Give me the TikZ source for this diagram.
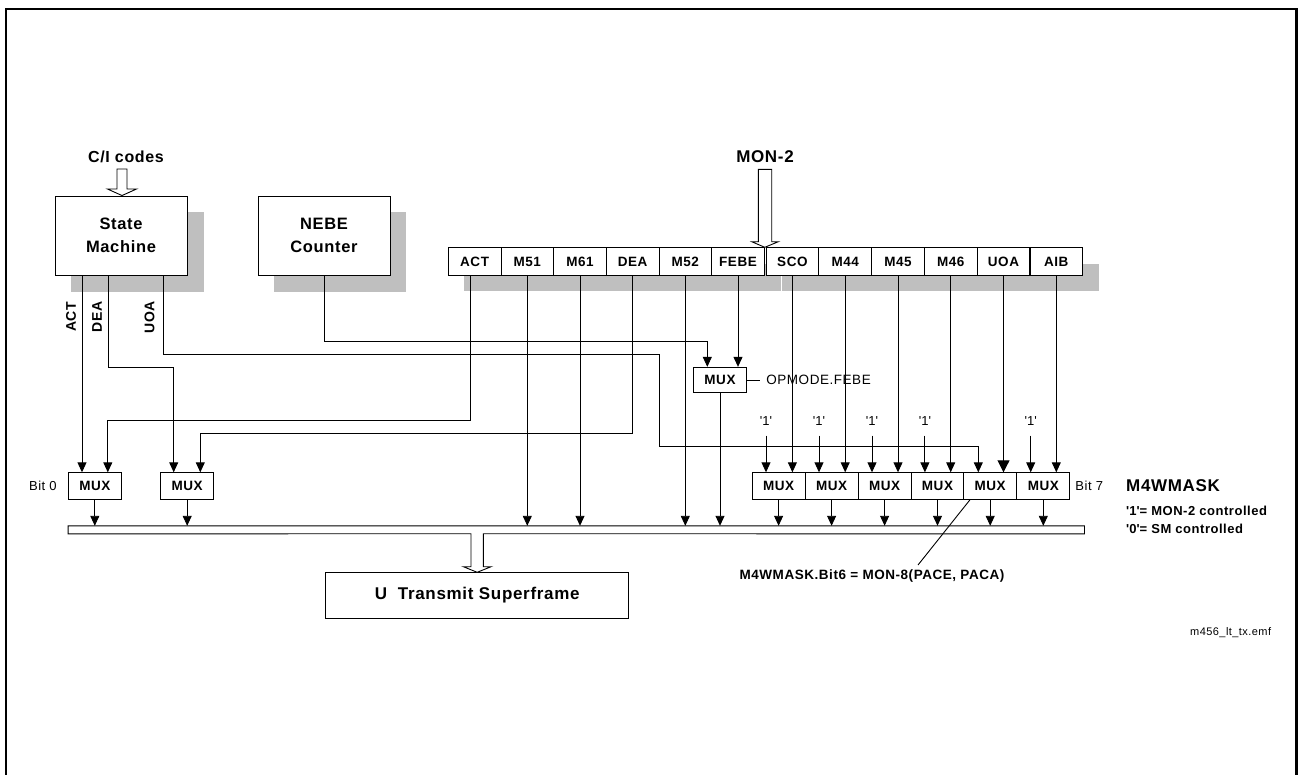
\documentclass[tikz,border=0pt]{standalone}
\usepackage{fontspec}
\setmainfont{Liberation Sans}[LetterSpace=4]
\usetikzlibrary{arrows.meta,calc}
\newcommand\myq{\textquotesingle}
\begin{document}
\begin{tikzpicture}[x=1pt,y=-1pt,
  every node/.style={inner sep=0pt},
  ln/.style={line width=0.9pt},
  sig/.style={ln,-{Triangle[width=9pt,length=10pt]}},
  bigsig/.style={ln,-{Triangle[width=12pt,length=12pt]}},
  hollow/.style={ln,fill=white,line join=miter},
  blk/.style={draw,ln,fill=white,align=center,minimum width=132pt,minimum height=79pt,font=\fontsize{16.5}{23}\selectfont\bfseries},
  shade/.style={fill=black!25},
  cell/.style={draw,ln,fill=white,minimum width=52.7pt,minimum height=27.5pt,font=\fontsize{13.5}{16}\selectfont\bfseries},
  muxbox/.style={draw,ln,fill=white,minimum width=53pt,minimum height=26.3pt,font=\fontsize{13.5}{16}\selectfont\bfseries},
  small/.style={font=\fontsize{13}{15}\selectfont},
  smallbf/.style={font=\fontsize{13}{15}\selectfont\bfseries},
  rlbl/.style={rotate=90,font=\fontsize{14}{16}\selectfont\bfseries},
  title/.style={font=\fontsize{17}{20}\selectfont\bfseries}
]
\useasboundingbox (0,0) rectangle (1298,774);
\fill[white] (0,0) rectangle (1298,774);
% outer frame
\draw[line width=2.4pt] (6,790) -- (6,9) -- (1296.5,9) -- (1296.5,790);

% shadows
\fill[shade] (71,212) rectangle (204,292);
\fill[shade] (274,212) rectangle (406,292);
\fill[shade] (464,264) rectangle (781,291);
\fill[shade] (782.3,264) rectangle (1099,291);

% blocks
\node[blk] (sm) at (121,235.5) {State\\Machine};
\node[blk] (nebe) at (324,235.5) {NEBE\\Counter};

% register cells
\foreach \x/\n/\t in {474.6/act/ACT, 527.3/m51/M51, 580.0/m61/M61, 632.7/dea/DEA, 685.3/m52/M52, 738.0/febe/FEBE,
                     792.4/sco/SCO, 845.2/m44/M44, 898.0/m45/M45, 950.7/m46/M46, 1003.5/uoa/UOA, 1056.3/aib/AIB}
  \node[cell] (\n) at (\x,261.5) {\t};

% input arrows (hollow)
\node[title,font=\fontsize{16}{19}\selectfont\bfseries,anchor=base] (ci) at (126,162) {C/I codes};
\draw[hollow] (117,169) -- (117,189) -- (107.5,189) -- ([xshift=1pt]sm.north) -- (136.5,189) -- (127,189) -- (127,169) -- cycle;
\node[title,anchor=base] (mon) at (765,162) {MON-2};
\draw[hollow] (758.3,169.3) -- (758.3,241.7) -- (751.7,241.7) -- (febe.north east) -- (778.3,241.7) -- (771.7,241.7) -- (771.7,169.3) -- cycle;

% rotated labels
\node[rlbl] (lact) at (71,317) {ACT};
\node[rlbl] (ldea) at (97,317) {DEA};
\node[rlbl] (luoa) at (149.5,317) {UOA};

% muxes
\node[muxbox] (mux1) at (94.8,485.9) {MUX};
\node[muxbox] (mux2) at (187.2,485.9) {MUX};
\foreach \x/\n in {778.6/mux3, 831.6/mux4, 884.6/mux5, 937.5/mux6, 990.2/mux7, 1043.3/mux8}
  \node[muxbox] (\n) at (\x,485.9) {MUX};
\node[muxbox,minimum width=53.4pt,minimum height=25.4pt] (fmux) at (720,380) {MUX};

% bus and output to U transmit superframe
\node[minimum width=1016pt,minimum height=7.7pt] (bus) at (576.3,529.85) {};
\node[draw,ln,minimum width=303pt,minimum height=45.5pt,font=\fontsize{17}{20}\selectfont\bfseries] (tx) at (477.2,595.5) {U~~Transmit Superframe};
\draw[hollow] (bus.north west) -- (bus.north east) -- (bus.south east) -- (483.3,533.7) -- (483.3,566.7) -- (491,566.7)
   -- (tx.north) -- (463.4,566.7) -- (471,566.7) -- (471,533.7) -- (bus.south west) -- cycle;

% state machine signals
\draw[sig] ([xshift=-39pt]sm.south) -- ([xshift=-39pt]sm.south |- mux1.north);
\draw[sig] ([xshift=-12.7pt]sm.south) |- (173.7,367.3) -- ([xshift=-13.5pt]mux2.north);
\draw[sig] ([xshift=42.3pt]sm.south) |- (659.5,354) |- (978.3,446.7) -- ([xshift=-11.9pt]mux7.north);
\draw[sig] (nebe.south) |- (707.3,341) -- ([xshift=-12.7pt]fmux.north);

% register signals
\draw[sig] ([xshift=-4.6pt]act.south) |- (107.8,420.3) -- ([xshift=13pt]mux1.north);
\draw[sig] (dea.south) |- (200.3,433) -- ([xshift=13.1pt]mux2.north);
\foreach \n in {m51,m61,m52}
  \draw[sig] (\n.south) -- (\n.south |- bus.north);
\draw[sig] (febe.south) -- (febe.south |- fmux.north);
\draw[sig] (fmux.south) -- (fmux.south |- bus.north);
\draw[sig] (sco.south) -- (sco.south |- mux3.north);
\draw[sig] (m44.south) -- (m44.south |- mux4.north);
\draw[sig] (m45.south) -- (m45.south |- mux5.north);
\draw[sig] (m46.south) -- (m46.south |- mux6.north);
\draw[bigsig] (uoa.south) -- (uoa.south |- mux7.north);
\draw[sig] (aib.south) -- (aib.south |- mux8.north);

% '1' inputs
\foreach \x/\n/\m in {766/o3/mux3, 819/o4/mux4, 872/o5/mux5, 924.9/o6/mux6, 1030.7/o8/mux8}{
  \node[small] (\n) at (\x,420.7) {\myq1\myq};
  \draw[sig] ([yshift=-15pt]\n.center) -- (\n.center |- \m.north);
}

% mux outputs
\foreach \n in {mux1,mux2,mux3,mux4,mux5,mux6,mux7,mux8}
  \draw[sig] (\n.south) -- (\n.south |- bus.north);

% labels
\node[small,anchor=east] (b0) at ([xshift=-11pt]mux1.west) {Bit 0};
\node[small,anchor=west] (b7) at ([xshift=5pt]mux8.east) {Bit 7};
\node[font=\fontsize{13.5}{16}\selectfont,anchor=west] (opm) at ([xshift=19pt]fmux.east) {OPMODE.FEBE};
\draw[ln] (fmux.east) -- ([xshift=-5.7pt]opm.west);

\node[title,anchor=base west] (mask) at (1126,491.7) {M4WMASK};
\node[smallbf,anchor=base west] (mk1) at (1126,515) {\myq1\myq= MON-2 controlled};
\node[smallbf,anchor=base west] (mk0) at (1126,533.3) {\myq0\myq= SM controlled};
\node[font=\fontsize{11}{13}\selectfont,anchor=base west] (fn) at (1190,635.5) {m456\_lt\_tx.emf};

\node[font=\fontsize{13.5}{16}\selectfont\bfseries,anchor=base] (lb6) at (872,579) {M4WMASK.Bit6 = MON-8(PACE, PACA)};
\coordinate (lead) at (918,565);
\draw[ln] ([xshift=-20pt]mux7.south) -- (lead);
\end{tikzpicture}
\end{document}
